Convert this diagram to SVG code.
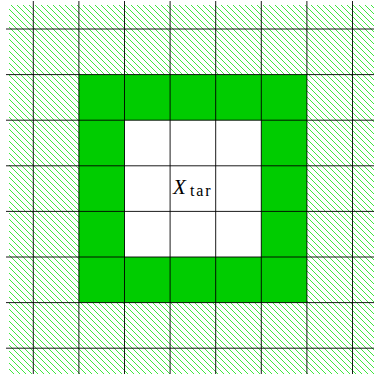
<svg xmlns="http://www.w3.org/2000/svg" width="374" height="374" viewBox="0 0 374 374">
  <style>
    .grid line { stroke: #000; stroke-width: 0.9; }
    .solid { fill: #00cc00; }
    .lbl { font-family: "Liberation Serif", "DejaVu Serif", serif; fill: #000; }
  </style>
  <defs>
    <pattern id="hatch" patternUnits="userSpaceOnUse" x="0" y="0" width="6" height="6">
      <path d="M0,0 L6,6 M-1,5 L1,7 M5,-1 L7,1" stroke="#00dd00" stroke-width="0.75" fill="none"/>
    </pattern>
  </defs>
  <rect id="hatched" x="9" y="5" width="365" height="369" fill="#fff"/>
  <rect x="9" y="5" width="365" height="369" fill="url(#hatch)"/>
  <rect id="ring" class="solid" x="78.9" y="74.6" width="228" height="228"/>
  <rect id="inner" x="124.5" y="120.2" width="136.8" height="136.8" fill="#fff"/>
  <g class="grid" id="grid">
    <line x1="33.3" y1="1" x2="33.3" y2="374"/>
    <line x1="78.9" y1="1" x2="78.9" y2="374"/>
    <line x1="124.5" y1="1" x2="124.5" y2="374"/>
    <line x1="170.1" y1="1" x2="170.1" y2="374"/>
    <line x1="215.7" y1="1" x2="215.7" y2="374"/>
    <line x1="261.3" y1="1" x2="261.3" y2="374"/>
    <line x1="306.9" y1="1" x2="306.9" y2="374"/>
    <line x1="352.5" y1="1" x2="352.5" y2="374"/>
    <line x1="6" y1="29" x2="374" y2="29"/>
    <line x1="6" y1="74.6" x2="374" y2="74.6"/>
    <line x1="6" y1="120.2" x2="374" y2="120.2"/>
    <line x1="6" y1="165.8" x2="374" y2="165.8"/>
    <line x1="6" y1="211.4" x2="374" y2="211.4"/>
    <line x1="6" y1="257" x2="374" y2="257"/>
    <line x1="6" y1="302.6" x2="374" y2="302.6"/>
    <line x1="6" y1="348.2" x2="374" y2="348.2"/>
  </g>
  <g id="label">
    <text class="lbl" x="173" y="193.5" font-size="21" font-style="italic">X</text>
    <text class="lbl" x="190" y="196.4" font-size="16" textLength="20.5" lengthAdjust="spacing">tar</text>
  </g>
</svg>
